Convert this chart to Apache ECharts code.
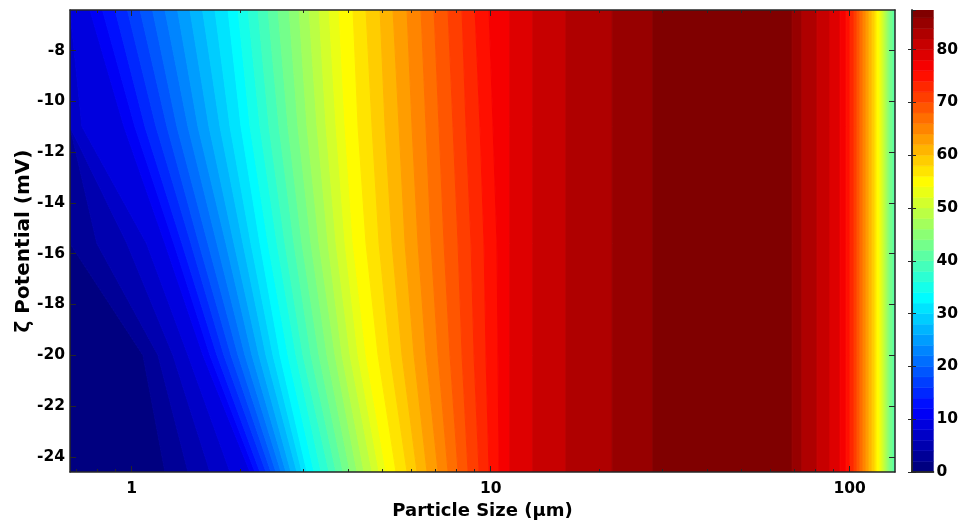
<!DOCTYPE html>
<html>
<head>
<meta charset="utf-8">
<script src="https://cdn.jsdelivr.net/npm/echarts@6/dist/echarts.min.js"></script>
<style>
  html, body { margin: 0; padding: 0; background: #ffffff; }
  #chart { width: 961px; height: 527px; }
</style>
</head>
<body>
<div id="chart"></div>
<script>
// Zeta potential rows (mV) at which the contour crossings are listed
const potentials = [-6.4, -11, -15.6, -20, -24.6];

// Contour levels on the rising side of the efficiency surface
const riseLevels = [2, 4, 6, 8, 10, 12, 14, 16, 18, 20, 22, 24, 26, 28, 30, 32, 34, 36, 38,
                    40, 42, 44, 46, 48, 50, 52, 54, 56, 58, 60, 62, 64, 66, 68, 70, 72, 74, 76];

// Particle size (um) at which each rising level is crossed, one list per potential row
const riseAt_6_4 = [0.673, 0.673, 0.673, 0.673, 0.765, 0.829, 0.899, 0.973, 1.055, 1.143,
                    1.238, 1.342, 1.453, 1.575, 1.706, 1.855, 1.978, 2.109, 2.248, 2.398,
                    2.556, 2.743, 2.924, 3.118, 3.325, 3.545, 3.779, 4.135, 4.494, 4.917,
                    5.344, 5.846, 6.394, 6.953, 7.605, 8.318, 9.044, 9.89];
const riseAt_11 = [0.673, 0.673, 0.673, 0.727, 0.952, 1.021, 1.089, 1.169, 1.254, 1.337,
                   1.435, 1.530, 1.642, 1.762, 1.879, 2.016, 2.136, 2.277, 2.413, 2.572,
                   2.725, 2.905, 3.078, 3.282, 3.478, 3.708, 3.928, 4.270, 4.671, 5.078,
                   5.554, 6.036, 6.603, 7.178, 7.852, 8.536, 9.337, 10.15];
const riseAt_15_6 = [0.673, 0.800, 0.970, 1.100, 1.238, 1.311, 1.381, 1.463, 1.540, 1.631,
                     1.728, 1.831, 1.928, 2.042, 2.149, 2.277, 2.398, 2.540, 2.673, 2.832,
                     2.981, 3.158, 3.325, 3.522, 3.708, 3.928, 4.135, 4.494, 4.886, 5.311,
                     5.772, 6.272, 6.821, 7.411, 8.108, 8.813, 9.579, 10.41];
const riseAt_20 = [1.075, 1.184, 1.303, 1.435, 1.580, 1.652, 1.728, 1.807, 1.891, 1.978,
                   2.068, 2.163, 2.262, 2.366, 2.475, 2.589, 2.725, 2.869, 3.000, 3.158,
                   3.325, 3.499, 3.685, 3.854, 4.057, 4.270, 4.494, 4.855, 5.243, 5.661,
                   6.115, 6.604, 7.132, 7.702, 8.320, 8.986, 9.703, 10.48];
const riseAt_24_6 = [1.238, 1.435, 1.652, 1.879, 2.136, 2.205, 2.277, 2.366, 2.443, 2.523,
                     2.606, 2.690, 2.778, 2.886, 2.981, 3.078, 3.220, 3.368, 3.545, 3.708,
                     3.878, 4.057, 4.242, 4.437, 4.671, 4.886, 5.109, 5.447, 5.847, 6.233,
                     6.646, 7.132, 7.605, 8.110, 8.646, 9.278, 9.892, 10.55];

// Upper levels: crossed at the same size for every potential
const upperLevels = [78, 80, 82, 84, 86];
const upperAt = [11.3, 13.1, 16.2, 21.8, 28.3];

// Falling side past the plateau (levels from the top down)
const fallLevels = [86, 84, 82, 80, 78, 76, 74, 72, 70, 68, 66, 64, 62, 60, 58, 56, 54, 52, 50, 48, 46, 44, 42];
const fallAt = [69.1, 73.6, 81.1, 88.1, 94.0, 97.7, 100.2, 102.8, 104.8, 106.8, 108.9, 111.0,
                113.2, 115.4, 117.6, 119.1, 121.4, 123.0, 124.6, 126.2, 127.8, 129.5, 132.0];

// Axis ticks
const sizeMajorTicks = [1, 10, 100];
const sizeMinorTicks = [0.7, 0.8, 0.9, 2, 3, 4, 5, 6, 7, 8, 9, 20, 30, 40, 50, 60, 70, 80, 90];
const potentialTicks = [-24, -22, -20, -18, -16, -14, -12, -10, -8];

const xMin = 0.673, xMax = 133.7;
const yMin = -24.6, yMax = -6.4;
const levelTop = 86;      // colour-scale top level
const cbarMax = 87.5;     // colour bar upper limit
const levelStep = 2;

const riseRows = [riseAt_6_4, riseAt_11, riseAt_15_6, riseAt_20, riseAt_24_6];

function riseEdge(level) {
  if (level <= 0) return potentials.map(() => xMin);
  const i = riseLevels.indexOf(level);
  if (i >= 0) return riseRows.map(r => r[i]);
  const j = upperLevels.indexOf(level);
  return potentials.map(() => upperAt[j]);
}
function fallEdge(level) {
  const j = fallLevels.indexOf(level);
  if (j < 0) return potentials.map(() => xMax);
  return potentials.map(() => fallAt[j]);
}

// filled bands between neighbouring contour levels
const bands = [];
for (let L = 0; L < levelTop; L += levelStep) bands.push({ level: L, left: riseEdge(L), right: riseEdge(L + levelStep) });
bands.push({ level: levelTop, left: riseEdge(levelTop), right: fallEdge(levelTop) });
for (let L = levelTop - levelStep; L >= 40; L -= levelStep) bands.push({ level: L, left: fallEdge(L + levelStep), right: fallEdge(L) });

// MATLAB-style jet colour map
function clamp01(v) { return Math.max(0, Math.min(1, v)); }
function jet(t) {
  const r = clamp01(Math.min(4 * t - 1.5, -4 * t + 4.5));
  const g = clamp01(Math.min(4 * t - 0.5, -4 * t + 3.5));
  const b = clamp01(Math.min(4 * t + 0.5, -4 * t + 2.5));
  return 'rgb(' + Math.round(r * 255) + ',' + Math.round(g * 255) + ',' + Math.round(b * 255) + ')';
}

const cbarLevels = [];
for (let L = 0; L <= levelTop; L += levelStep) cbarLevels.push(L);

const FONT = '"DejaVu Sans", Verdana, sans-serif';
const labelStyle = { color: '#000', fontFamily: FONT, fontWeight: 'bold', fontSize: 15.5 };
const lineStyle = { color: '#262626', width: 1.5 };

function sizeAxis(position, ticks, len, withLabels, withLine) {
  return {
    type: 'log', logBase: 10, gridIndex: 0, position: position,
    min: xMin, max: xMax, z: 10,
    axisLine: { show: withLine, lineStyle: lineStyle },
    axisTick: { show: true, inside: true, length: len, customValues: ticks, lineStyle: { color: '#262626', width: 1 } },
    axisLabel: withLabels
      ? Object.assign({ show: true, customValues: ticks, margin: 9, formatter: v => String(v) }, labelStyle)
      : { show: false },
    splitLine: { show: false }, minorTick: { show: false }
  };
}

const chart = echarts.init(document.getElementById('chart'));
chart.setOption({
  animation: false,
  backgroundColor: '#ffffff',
  grid: [
    { left: 70, right: 66, top: 10, bottom: 55 },
    { left: 912, width: 22, top: 10, bottom: 55 }
  ],
  xAxis: [
    Object.assign(sizeAxis('bottom', sizeMajorTicks, 6, true, true), {
      name: 'Particle Size (\u03bcm)', nameLocation: 'middle', nameGap: 28,
      nameTextStyle: { color: '#000', fontFamily: FONT, fontWeight: 'bold', fontSize: 18 }
    }),
    sizeAxis('bottom', sizeMinorTicks, 3, false, false),
    sizeAxis('top', sizeMajorTicks, 6, false, true),
    sizeAxis('top', sizeMinorTicks, 3, false, false),
    {
      type: 'value', gridIndex: 1, min: 0, max: 1, position: 'bottom', z: 10,
      axisLine: { show: true, lineStyle: lineStyle }, axisTick: { show: false },
      axisLabel: { show: false }, splitLine: { show: false }
    },
    {
      type: 'value', gridIndex: 1, min: 0, max: 1, position: 'top', z: 10,
      axisLine: { show: true, lineStyle: lineStyle }, axisTick: { show: false },
      axisLabel: { show: false }, splitLine: { show: false }
    }
  ],
  yAxis: [
    {
      type: 'value', gridIndex: 0, min: yMin, max: yMax, position: 'left', z: 10,
      axisLine: { show: true, lineStyle: lineStyle },
      axisTick: { show: true, inside: true, length: 6, customValues: potentialTicks, lineStyle: { color: '#262626', width: 1 } },
      axisLabel: Object.assign({ customValues: potentialTicks, margin: 5 }, labelStyle),
      splitLine: { show: false },
      name: '\u03b6 Potential (mV)', nameLocation: 'middle', nameGap: 36, nameMoveOverlap: false,
      nameTextStyle: { color: '#000', fontFamily: FONT, fontWeight: 'bold', fontSize: 20 }
    },
    {
      type: 'value', gridIndex: 0, min: yMin, max: yMax, position: 'right', z: 10,
      axisLine: { show: true, lineStyle: lineStyle },
      axisTick: { show: true, inside: true, length: 6, customValues: potentialTicks, lineStyle: { color: '#262626', width: 1 } },
      axisLabel: { show: false }, splitLine: { show: false }
    },
    {
      type: 'value', gridIndex: 1, min: 0, max: cbarMax, interval: 10, position: 'right', z: 10,
      axisLine: { show: true, lineStyle: lineStyle },
      axisTick: { show: true, inside: true, length: 4, lineStyle: { color: '#262626', width: 1 } },
      axisLabel: Object.assign({ margin: 3, showMaxLabel: false }, labelStyle),
      splitLine: { show: false }
    },
    {
      type: 'value', gridIndex: 1, min: 0, max: cbarMax, interval: 10, position: 'left', z: 10,
      axisLine: { show: true, lineStyle: lineStyle },
      axisTick: { show: true, inside: true, length: 4, lineStyle: { color: '#262626', width: 1 } },
      axisLabel: { show: false }, splitLine: { show: false }
    }
  ],
  series: [
    {
      type: 'custom', name: 'efficiency', xAxisIndex: 0, yAxisIndex: 0, clip: true,
      data: bands.map((b, i) => [i, b.level]),
      renderItem: function (params, api) {
        const b = bands[api.value(0)];
        const pts = [];
        for (let r = 0; r < potentials.length; r++) pts.push(api.coord([b.left[r], potentials[r]]));
        for (let r = potentials.length - 1; r >= 0; r--) pts.push(api.coord([b.right[r], potentials[r]]));
        const c = jet(b.level / levelTop);
        return { type: 'polygon', shape: { points: pts }, style: { fill: c, stroke: c, lineWidth: 1 } };
      }
    },
    {
      type: 'custom', name: 'colorbar', xAxisIndex: 4, yAxisIndex: 2, clip: true,
      data: cbarLevels.map(L => [L]),
      renderItem: function (params, api) {
        const L = api.value(0);
        const p0 = api.coord([0, L]);
        const p1 = api.coord([1, Math.min(L + levelStep, cbarMax)]);
        const c = jet(L / levelTop);
        return {
          type: 'rect',
          shape: { x: p0[0], y: p1[1], width: p1[0] - p0[0], height: p0[1] - p1[1] },
          style: { fill: c, stroke: c, lineWidth: 0.5 }
        };
      }
    }
  ]
});
</script>
</body>
</html>
